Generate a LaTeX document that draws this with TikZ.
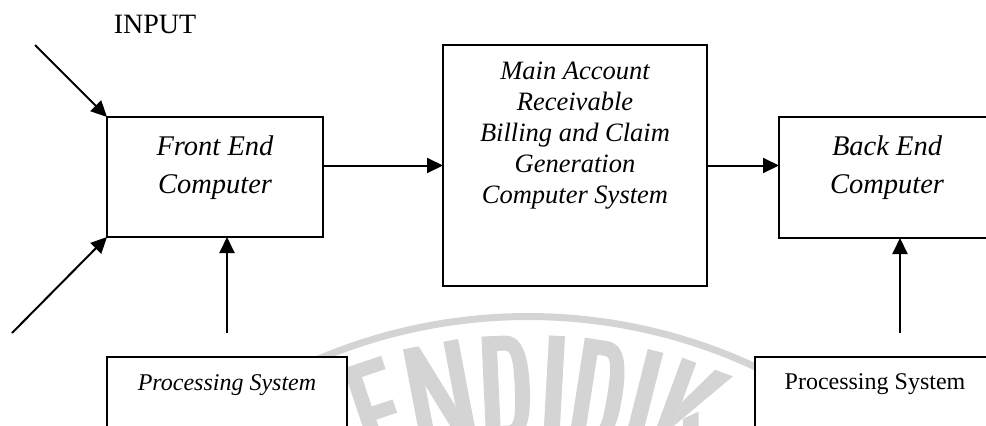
\documentclass[tikz,border=0pt]{standalone}
\usepackage{fontspec}
\setmainfont{Liberation Serif}
\usetikzlibrary{arrows.meta,calc}
\definecolor{wmgray}{RGB}{212,212,212}
\tikzset{
  box/.style={draw=black, line width=2pt, fill=white, rectangle,
    inner sep=0pt, outer sep=0pt, anchor=north west},
  flow/.style={line width=2pt, -{Triangle[length=16pt,width=15pt]}},
  boxtext/.style={inner sep=0pt, align=center,
    font=\fontsize{28.5}{38}\selectfont\itshape},
  maintext/.style={inner sep=0pt, align=center,
    font=\fontsize{26.5}{31}\selectfont\itshape},
  proctext/.style={inner sep=0pt, anchor=base, font=\fontsize{24}{28}\selectfont},
  % place a seal letter on the ring, #1 = angle from the vertical
  wmpos/.style={shift={({528+520*sin(#1)},{855-520*cos(#1)})}, rotate={-(#1)}},
}
% letter D of the seal, #1 = half width
\newcommand\sealD[1]{%
  \fill[wmgray, even odd rule]
    (-#1,0) -- (0,0) .. controls ({#1*0.75},0) and (#1,20) .. (#1,52)
    .. controls (#1,85) and ({#1*0.75},105) .. (0,105) -- (-#1,105) -- cycle
    ({-#1+15},15) -- (0,15) .. controls ({#1*0.3},15) and ({#1-15},30) .. ({#1-15},52)
    .. controls ({#1-15},75) and ({#1*0.3},90) .. (0,90) -- ({-#1+15},90) -- cycle;}
\begin{document}
\begin{tikzpicture}[x=1pt,y=-1pt]
\useasboundingbox (0,0) rectangle (986,426);
\clip (0,0) rectangle (986,426);

% faint seal in the background: ring and lettering
\draw[wmgray, line width=7pt]
  plot[domain=-124:-56, samples=90] ({528+538.5*cos(\x)},{855+538.5*sin(\x)});
\begin{scope}[wmpos=-18.6]
  \fill[wmgray] (-20,0) rectangle (-5,105) (-20,0) rectangle (20,14)
    (-20,45) rectangle (17,59) (-20,91) rectangle (20,105);
\end{scope}
\begin{scope}[wmpos=-10.8]
  \fill[wmgray] (-28,0) rectangle (-13,105) (13,0) rectangle (28,105);
  \fill[wmgray] (-28,0) -- (-12,0) -- (28,105) -- (12,105) -- cycle;
\end{scope}
\begin{scope}[wmpos=-2.6]
  \sealD{23}
\end{scope}
\begin{scope}[wmpos=3.2]
  \fill[wmgray] (-8,0) rectangle (8,105);
\end{scope}
\begin{scope}[wmpos=8.8]
  \sealD{23}
\end{scope}
\begin{scope}[wmpos=14.2]
  \fill[wmgray] (-8,0) rectangle (8,105);
\end{scope}
\begin{scope}[wmpos=20.2]
  \fill[wmgray] (-27,0) rectangle (-12,105);
  \fill[wmgray] (8,0) -- (27,0) -- (-12,68) -- (-12,42) -- cycle;
  \fill[wmgray] (-5,57) -- (7,45) -- (29,105) -- (11,105) -- cycle;
\end{scope}

% boxes
\node[box, minimum width=216pt, minimum height=120pt] (front) at (107,117) {};
\node[box, minimum width=264pt, minimum height=241pt] (main)  at (443,45)  {};
\node[box, minimum width=216pt, minimum height=121pt] (back)  at (779,117) {};
\node[box, minimum width=240pt, minimum height=120pt] (lproc) at (107,357) {};
\node[box, minimum width=240pt, minimum height=120pt] (rproc) at (755,357) {};

% labels
\node[inner sep=0pt, anchor=base, font=\fontsize{28}{34}\selectfont] (input) at (155,33) {INPUT};
\node[boxtext] (fronttxt) at (215,168) {Front End\\Computer};
\node[boxtext] (backtxt)  at (887,168) {Back End\\Computer};
\node[maintext] (maintxt) at (575,136)
  {Main Account\\Receivable\\Billing and Claim\\Generation\\Computer System};
\node[proctext, font=\fontsize{24}{28}\selectfont\itshape] (lproctxt) at (227,390) {Processing System};
\node[proctext] (rproctxt) at (875,389) {Processing System};

% connectors
\coordinate (intop) at (35,45);
\coordinate (inbot) at (12,333);
\coordinate (lfoot) at (227,333);
\coordinate (rfoot) at (900,333);
\draw[flow] (intop) -- (front.north west);
\draw[flow] (inbot) -- (front.south west);
\draw[flow] (front.east |- main.west) -- (main.west);
\draw[flow] (main.east) -- (back.west |- main.east);
\draw[flow] (lfoot) -- (lfoot |- front.south);
\draw[flow] (rfoot) -- (rfoot |- back.south);
\end{tikzpicture}
\end{document}
